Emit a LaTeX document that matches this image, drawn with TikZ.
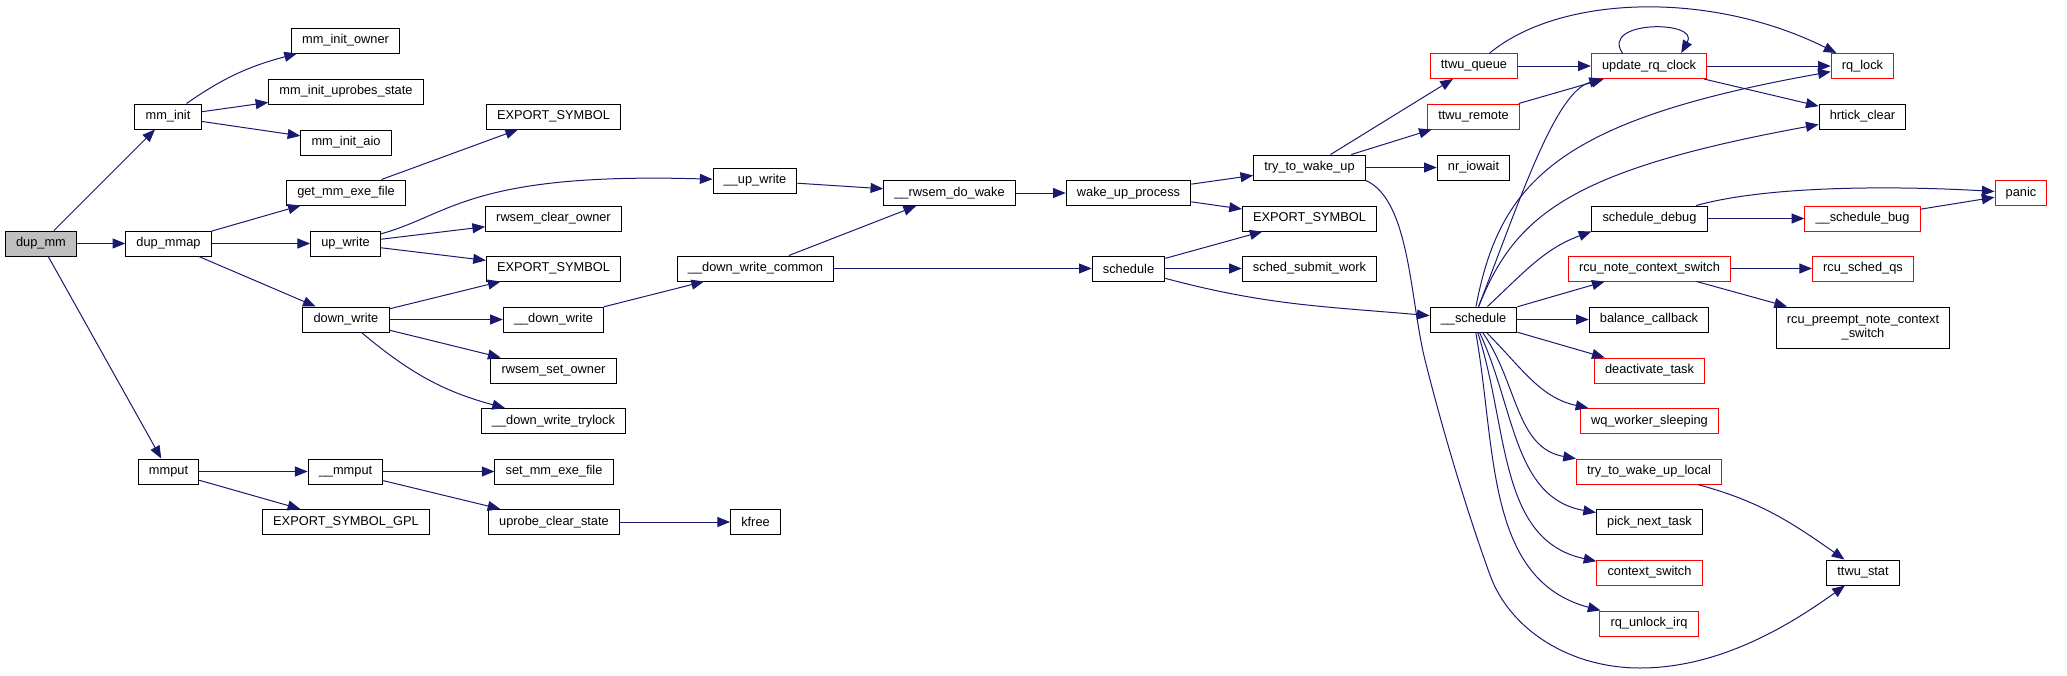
\documentclass[tikz,border=0pt]{standalone}
\usepackage{fontspec}
\setmainfont{Liberation Sans}
\usetikzlibrary{arrows.meta}
\definecolor{edge}{RGB}{25,25,112}
\definecolor{trunc}{RGB}{255,0,0}
\definecolor{cur}{RGB}{191,191,191}

\begin{document}
\begin{tikzpicture}[x=0.75pt,y=-0.75pt,
  fn/.style={rectangle,draw=black,line width=0.75pt,fill=white,minimum height=18.75pt,inner xsep=8pt,inner ysep=0pt,font=\fontsize{9.6}{11}\selectfont},
  tr/.style={fn,draw=trunc},
  top/.style={fn,fill=cur},
  e/.style={draw=edge,line width=0.75pt,-{Triangle[length=9.5pt,width=7.5pt]}}]
 \useasboundingbox (0,0) rectangle (2067,675);
 % mm side
 \node[top] (dupmm) at (41,243.5) {dup\_mm};
 \node[fn] (mminit) at (168,116.5) {mm\_init};
 \node[fn] (dupmmap) at (168.5,243.5) {dup\_mmap};
 \node[fn] (mmput) at (168.5,471.5) {mmput};
 \node[fn] (mmowner) at (345.5,40.5) {mm\_init\_owner};
 \node[fn] (mmupro) at (346,91.5) {mm\_init\_uprobes\_state};
 \node[fn] (mmaio) at (346,142.5) {mm\_init\_aio};
 \node[fn] (getexe) at (346,192.5) {get\_mm\_exe\_file};
 \node[fn] (upw) at (345.5,243.5) {up\_write};
 \node[fn] (downw) at (346,319.5) {down\_write};
 \node[fn] (mmputi) at (345.5,471.5) {\_\_mmput};
 \node[fn] (expgpl) at (346,522) {EXPORT\_SYMBOL\_GPL};
 \node[fn] (expa) at (553.5,116.5) {EXPORT\_SYMBOL};
 \node[fn] (rwclr) at (553.5,218.5) {rwsem\_clear\_owner};
 \node[fn] (expb) at (553.5,268.5) {EXPORT\_SYMBOL};
 \node[fn] (dnw) at (553.5,319.5) {\_\_down\_write};
 \node[fn] (rwset) at (553.5,370.5) {rwsem\_set\_owner};
 \node[fn] (dntry) at (553.5,421) {\_\_down\_write\_trylock};
 \node[fn] (setexe) at (554,471.5) {set\_mm\_exe\_file};
 \node[fn] (uprobe) at (554,522) {uprobe\_clear\_state};
 \node[fn] (kfree) at (755.5,522) {kfree};
 \node[fn] (upwi) at (755,180.5) {\_\_up\_write};
 \node[fn] (dnwc) at (755.5,268.5) {\_\_down\_write\_common};
 % wake / schedule
 \node[fn] (rwwake) at (949.5,193) {\_\_rwsem\_do\_wake};
 \node[fn] (wakeup) at (1128.5,193) {wake\_up\_process};
 \node[fn] (sched) at (1128.5,268.5) {schedule};
 \node[fn] (ttwu) at (1309.5,167.5) {try\_to\_wake\_up};
 \node[fn] (expc) at (1309.5,218.5) {EXPORT\_SYMBOL};
 \node[fn] (submit) at (1309.5,268.5) {sched\_submit\_work};
 \node[tr] (tqueue) at (1474,66) {ttwu\_queue};
 \node[tr] (tremote) at (1473.5,116.5) {ttwu\_remote};
 \node[fn] (iowait) at (1473.5,167.5) {nr\_iowait};
 \node[fn] (schedi) at (1473.5,319.5) {\_\_schedule};
 % right columns
 \node[tr] (updclk) at (1649,66) {update\_rq\_clock};
 \node[fn] (sdebug) at (1649.5,218.5) {schedule\_debug};
 \node[tr] (rcunote) at (1649.5,268.5) {rcu\_note\_context\_switch};
 \node[fn] (balcb) at (1649,319.5) {balance\_callback};
 \node[tr] (deact) at (1649.5,370.5) {deactivate\_task};
 \node[tr] (wqsleep) at (1649.5,421) {wq\_worker\_sleeping};
 \node[tr] (ttwul) at (1649,471.5) {try\_to\_wake\_up\_local};
 \node[fn] (pick) at (1649.5,522) {pick\_next\_task};
 \node[tr] (ctxsw) at (1649.5,572.5) {context\_switch};
 \node[tr] (rqunl) at (1649,623.5) {rq\_unlock\_irq};
 \node[tr] (rqlock) at (1862.5,66) {rq\_lock};
 \node[fn] (hrtick) at (1862.5,116.5) {hrtick\_clear};
 \node[tr] (sbug) at (1862.5,218.5) {\_\_schedule\_bug};
 \node[tr] (rcuqs) at (1863,268.5) {rcu\_sched\_qs};
 \node[fn,minimum height=30.75pt,align=center,font=\fontsize{9.6}{10.3}\selectfont] (rcupre) at (1863,327.5) {rcu\_preempt\_note\_context\\\_switch};
 \node[fn] (ttwustat) at (1863,572.5) {ttwu\_stat};
 \node[tr] (panic) at (2021,193) {panic};
 % calls
 \draw[e] (dupmm) -- (mminit);
 \draw[e] (dupmm) -- (dupmmap);
 \draw[e] (dupmm) -- (mmput);
 \draw[e] (mminit) to[out=35,in=195] (mmowner);
 \draw[e] (mminit) -- (mmupro);
 \draw[e] (mminit) -- (mmaio);
 \draw[e] (dupmmap) -- (getexe);
 \draw[e] (dupmmap) -- (upw);
 \draw[e] (dupmmap) -- (downw);
 \draw[e] (getexe) -- (expa);
 \draw[e] (upw) .. controls (450,215) and (470,172) .. (upwi);
 \draw[e] (upw) -- (rwclr);
 \draw[e] (upw) -- (expb);
 \draw[e] (downw) -- (expb);
 \draw[e] (downw) -- (dnw);
 \draw[e] (downw) -- (rwset);
 \draw[e] (downw) to[out=-40,in=165] (dntry);
 \draw[e] (mmput) -- (mmputi);
 \draw[e] (mmput) -- (expgpl);
 \draw[e] (mmputi) -- (setexe);
 \draw[e] (mmputi) -- (uprobe);
 \draw[e] (uprobe) -- (kfree);
 \draw[e] (upwi) -- (rwwake);
 \draw[e] (dnw) -- (dnwc);
 \draw[e] (dnwc) -- (rwwake);
 \draw[e] (dnwc) -- (sched);
 \draw[e] (rwwake) -- (wakeup);
 \draw[e] (wakeup) -- (ttwu);
 \draw[e] (wakeup) -- (expc);
 \draw[e] (sched) -- (expc);
 \draw[e] (sched) -- (submit);
 \draw[e] (sched) to[out=-15,in=175] (schedi);
 \draw[e] (ttwu) -- (tqueue);
 \draw[e] (ttwu) -- (tremote);
 \draw[e] (ttwu) -- (iowait);
 \draw[e] (ttwu.south east) .. controls (1410,200) and (1410,300) .. (1425,360)
   .. controls (1445,440) and (1470,520) .. (1490,575)
   .. controls (1510,630) and (1570,668) .. (1640,668)
   .. controls (1720,668) and (1790,625) .. (ttwustat);
 \draw[e] (tqueue) -- (updclk);
 \draw[e] (tqueue) .. controls (1560,-5) and (1710,-10) .. (rqlock);
 \draw[e] (tremote) -- (updclk);
 \draw[e] (updclk.154) .. controls (1600,20) and (1700,20) .. (updclk.22);
 \draw[e] (updclk) -- (rqlock);
 \draw[e] (updclk) -- (hrtick);
 % __schedule fan
 \draw[e] (schedi) .. controls (1520,200) and (1555,92) .. (updclk);
 \draw[e] (schedi) .. controls (1500,180) and (1560,120) .. (rqlock);
 \draw[e] (schedi) .. controls (1515,215) and (1570,170) .. (hrtick);
 \draw[e] (schedi) to[out=43,in=200] (sdebug.south west);
 \draw[e] (schedi) -- (rcunote);
 \draw[e] (schedi) -- (balcb);
 \draw[e] (schedi) -- (deact);
 \draw[e] (schedi) to[out=-45,in=168] (wqsleep);
 \draw[e] (schedi) to[out=-55,in=170] (ttwul);
 \draw[e] (schedi) to[out=-65,in=170] (pick);
 \draw[e] (schedi) to[out=-72,in=168] (ctxsw);
 \draw[e] (schedi) to[out=-80,in=165] (rqunl);
 \draw[e] (sdebug) -- (sbug);
 \draw[e] (sdebug) .. controls (1770,185) and (1900,186) .. (panic);
 \draw[e] (sbug) -- (panic);
 \draw[e] (rcunote) -- (rcuqs);
 \draw[e] (rcunote) -- (rcupre);
 \draw[e] (ttwul) to[out=-15,in=145] (ttwustat);
\end{tikzpicture}
\end{document}
